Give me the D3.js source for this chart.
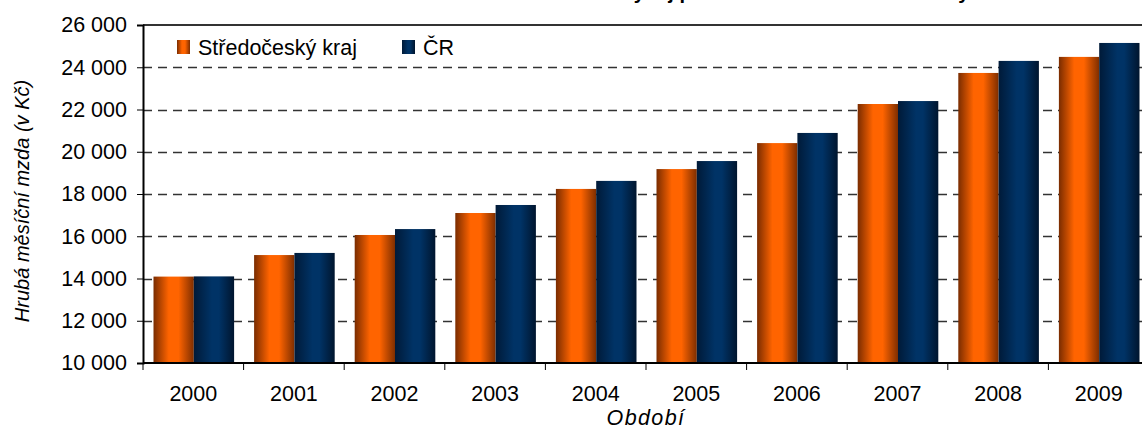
<!DOCTYPE html>
<html>
<head>
<meta charset="utf-8">
<script src="https://cdn.jsdelivr.net/npm/d3@7"></script>
<style>
  body { margin: 0; background: #fff; }
  svg { display: block; font-family: "Liberation Sans", Arial, sans-serif; }
</style>
</head>
<body>
<svg id="chart" width="1142" height="430"></svg>
<script>
const years = ['2000', '2001', '2002', '2003', '2004', '2005', '2006', '2007', '2008', '2009'];
const seriesNames = ['Středočeský kraj', 'ČR'];
const stredocesky = [14090, 15110, 16060, 17100, 18240, 19180, 20410, 22260, 23730, 24490];
const cr = [14100, 15210, 16340, 17480, 18620, 19560, 20890, 22400, 24300, 25150];
const yTicks = [10000, 12000, 14000, 16000, 18000, 20000, 22000, 24000, 26000];

const plotLeft = 143, plotRight = 1149, plotTop = 25, plotBottom = 363;
const fontSize = 21.5;

const svg = d3.select('#chart');
const defs = svg.append('defs');

function gradient (id, stops) {
    const g = defs.append('linearGradient')
        .attr('id', id)
        .attr('x1', '0%').attr('x2', '100%')
        .attr('y1', '0%').attr('y2', '0%');
    stops.forEach(s => g.append('stop').attr('offset', s[0]).attr('stop-color', s[1]));
}
gradient('gOrange', [[0, '#7a2c00'], [0.38, '#ff6400'], [0.62, '#ff6400'], [1, '#7e2e00']]);
gradient('gBlue', [[0, '#001a38'], [0.45, '#003366'], [0.62, '#003366'], [1, '#00152e']]);
const fills = ['url(#gOrange)', 'url(#gBlue)'];

const x0 = d3.scaleBand().domain(years).range([plotLeft, plotRight]).padding(0);
const x1 = d3.scaleBand().domain(seriesNames).range([10.5, x0.bandwidth() - 9.5]).padding(0);
const y = d3.scaleLinear().domain([10000, 26000]).range([plotBottom, plotTop]);

const fmt = v => d3.format(',')(v).replace(/,/g, ' ');

// title, cut off at the top edge as in the source image
svg.append('text')
    .attr('x', 795)
    .attr('y', -1)
    .attr('text-anchor', 'middle')
    .attr('font-size', 20)
    .attr('font-weight', 'bold')
    .text('Vývoj průměrné hrubé měsíční mzdy');

// GRIDLINES

svg.append('g')
    .selectAll('line')
    .data(yTicks.filter(t => t > 10000 && t < 26000))
    .enter()
    .append('line')
    .attr('x1', plotLeft)
    .attr('x2', 1142)
    .attr('y1', d => Math.round(y(d)) + 0.5)
    .attr('y2', d => Math.round(y(d)) + 0.5)
    .attr('stroke', '#333')
    .attr('stroke-width', 1.3)
    .attr('stroke-dasharray', '9,6');

// BARS

const data = years.map((yr, i) => ({year: yr, values: [stredocesky[i], cr[i]]}));

svg.append('g')
    .selectAll('g')
    .data(data)
    .enter()
    .append('g')
    .attr('transform', d => `translate(${x0(d.year)},0)`)
    .selectAll('rect')
    .data(d => d.values.map((v, i) => ({name: seriesNames[i], value: v, i})))
    .enter()
    .append('rect')
    .attr('x', d => x1(d.name))
    .attr('width', x1.bandwidth())
    .attr('y', d => y(d.value))
    .attr('height', d => plotBottom - y(d.value))
    .attr('fill', d => fills[d.i]);

// AXES

svg.append('line')
    .attr('x1', plotLeft).attr('x2', 1142)
    .attr('y1', plotTop).attr('y2', plotTop)
    .attr('stroke', '#333').attr('stroke-width', 2);

const yAxis = svg.append('g')
    .attr('transform', `translate(${plotLeft},0)`)
    .call(d3.axisLeft(y).tickValues(yTicks).tickFormat(fmt).tickSize(6).tickPadding(10));
yAxis.select('.domain').attr('stroke', '#000').attr('stroke-width', 2);
yAxis.selectAll('.tick line').attr('stroke', '#000');
yAxis.selectAll('text').attr('font-size', fontSize).attr('fill', '#000')
    .attr('font-family', '"Liberation Sans", Arial, sans-serif');

const xAxis = svg.append('g')
    .attr('transform', `translate(0,${plotBottom})`)
    .call(d3.axisBottom(x0).tickSize(0).tickPadding(23));
xAxis.select('.domain').remove();
xAxis.selectAll('text').attr('font-size', fontSize).attr('fill', '#000')
    .attr('font-family', '"Liberation Sans", Arial, sans-serif');

svg.append('line')
    .attr('x1', plotLeft).attr('x2', 1142)
    .attr('y1', plotBottom).attr('y2', plotBottom)
    .attr('stroke', '#000').attr('stroke-width', 2);

svg.append('g')
    .selectAll('line')
    .data(years)
    .enter()
    .append('line')
    .attr('x1', d => x0(d))
    .attr('x2', d => x0(d))
    .attr('y1', plotBottom)
    .attr('y2', plotBottom + 7)
    .attr('stroke', '#000');

// AXIS TITLES

svg.append('text')
    .attr('transform', `translate(29,${(plotTop + plotBottom) / 2 + 7}) rotate(-90)`)
    .attr('text-anchor', 'middle')
    .attr('font-size', 20)
    .attr('font-style', 'italic')
    .text('Hrubá měsíční mzda (v Kč)');

svg.append('text')
    .attr('x', (plotLeft + plotRight) / 2)
    .attr('y', 425)
    .attr('text-anchor', 'middle')
    .attr('font-size', fontSize)
    .attr('font-style', 'italic')
    .attr('letter-spacing', 1.4)
    .text('Období');

// LEGEND

const legend = svg.append('g');
const legendX = [177, 402];
seriesNames.forEach((name, i) => {
    legend.append('rect')
        .attr('x', legendX[i])
        .attr('y', 40)
        .attr('width', 13)
        .attr('height', 14)
        .attr('fill', fills[i]);
    legend.append('text')
        .attr('x', legendX[i] + 21)
        .attr('y', 55)
        .attr('font-size', fontSize)
        .text(name);
});
</script>
</body>
</html>
